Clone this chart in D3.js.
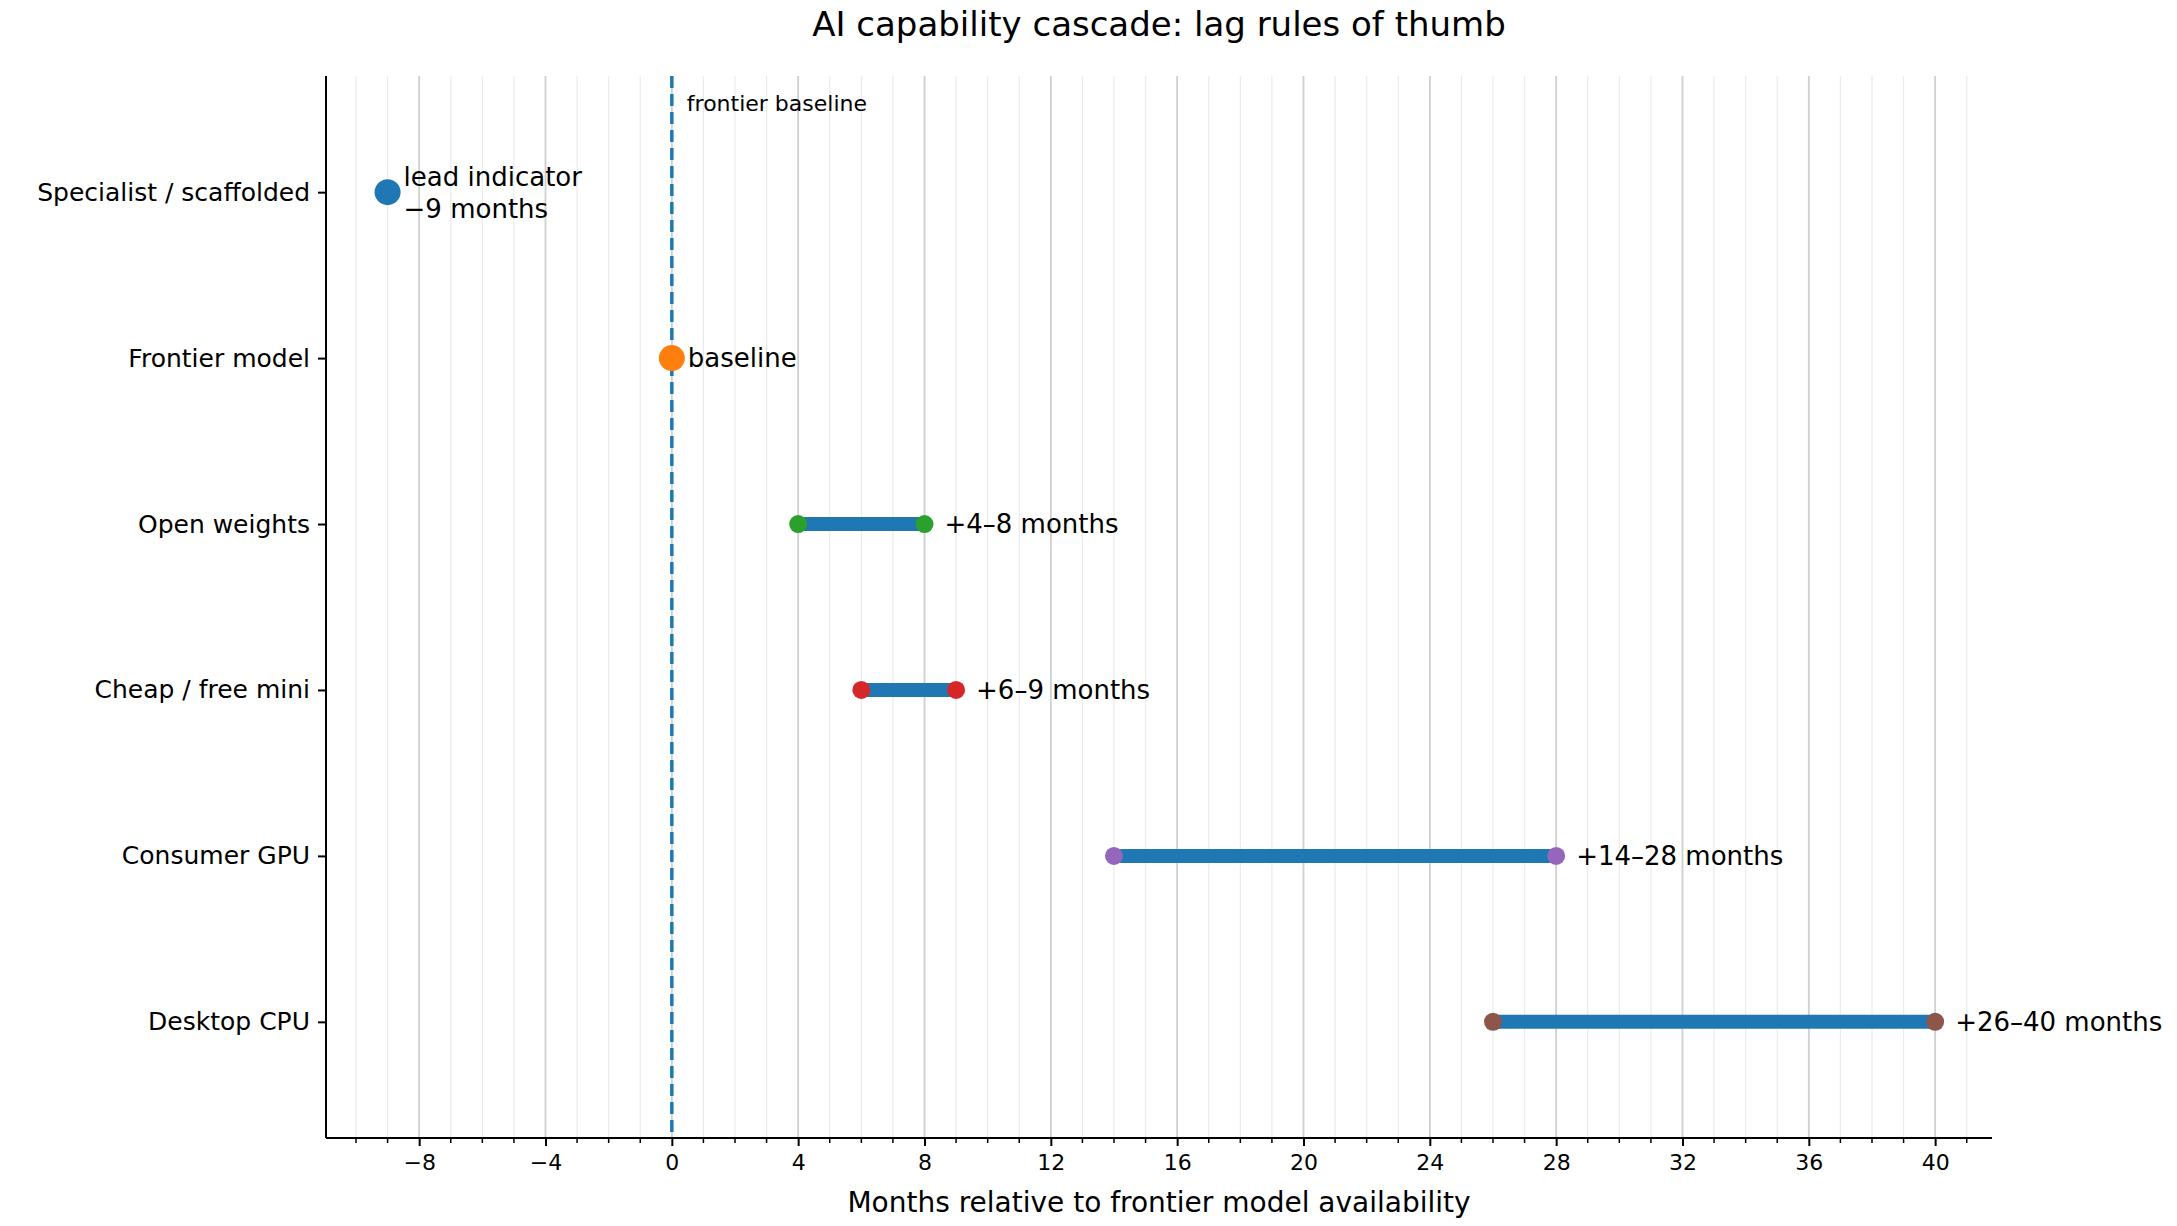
<!DOCTYPE html><html><head><meta charset="utf-8"><script src="https://cdn.jsdelivr.net/npm/d3@7"></script>
<style>body{margin:0;background:#fff}text{font-family:"DejaVu Sans",sans-serif}</style></head><body><svg id="c" width="2177" height="1226"></svg>
<script>
const categories=["Specialist / scaffolded","Frontier model","Open weights","Cheap / free mini","Consumer GPU","Desktop CPU"];
const lowVals=[-9,0,4,6,14,26];
const highVals=[-9,0,8,9,28,40];
const labels=["lead indicator\n\u22129 months","baseline","+4\u20138 months","+6\u20139 months","+14\u201328 months","+26\u201340 months"];
const colors=["#1f77b4","#ff7f0e","#2ca02c","#d62728","#9467bd","#8c564b"];
const xTicks=[-8,-4,0,4,8,12,16,20,24,28,32,36,40];
const svg=d3.select("#c");
const L=326,R=1992,T=76,B=1138;
const x=d3.scaleLinear().domain([-10.95,41.8]).range([L,R]);
const y=d3.scaleLinear().domain([-0.7,5.7]).range([T,B]);
const minor=d3.range(-10,42,1);
svg.append("g").selectAll("line").data(minor).join("line").attr("x1",d=>x(d)).attr("x2",d=>x(d)).attr("y1",T).attr("y2",B).attr("stroke","#ebebeb").attr("stroke-width",1.2);
svg.append("g").selectAll("line").data(xTicks).join("line").attr("x1",d=>x(d)).attr("x2",d=>x(d)).attr("y1",T).attr("y2",B).attr("stroke","#d0d0d0").attr("stroke-width",1.8);
svg.append("line").attr("x1",x(0)).attr("x2",x(0)).attr("y1",T).attr("y2",B).attr("stroke","#1f77b4").attr("stroke-width",3.5).attr("stroke-dasharray","12,6");
svg.append("text").attr("x",x(0)+15).attr("y",111).attr("font-size",22).text("frontier baseline");
const xa=svg.append("g").attr("transform",`translate(0,${B})`).call(d3.axisBottom(x).tickValues(xTicks).tickFormat(d=>d<0?"\u2212"+(-d):d).tickSize(8).tickPadding(8));
xa.selectAll("text").attr("font-size",22).attr("font-family","DejaVu Sans");
xa.select(".domain").attr("stroke-width",2).attr("d",`M${L},0H${R}`);
xa.selectAll(".tick line").attr("stroke-width",2);
svg.append("g").attr("transform",`translate(0,${B})`).selectAll("line").data(minor.filter(d=>d%4!==0)).join("line").attr("x1",d=>x(d)).attr("x2",d=>x(d)).attr("y1",0).attr("y2",5).attr("stroke","#000").attr("stroke-width",1.5);
const ya=svg.append("g").attr("transform",`translate(${L},0)`).call(d3.axisLeft(y).tickValues(d3.range(6)).tickFormat(i=>categories[i]).tickSize(8).tickPadding(8));
ya.selectAll("text").attr("font-size",25).attr("font-family","DejaVu Sans");
ya.select(".domain").attr("stroke-width",2).attr("d",`M0,${T}V${B}`);
ya.selectAll(".tick line").attr("stroke-width",2);
const idx=d3.range(6);
svg.append("g").selectAll("line").data(idx.filter(i=>highVals[i]>lowVals[i])).join("line").attr("x1",i=>x(lowVals[i])).attr("x2",i=>x(highVals[i])).attr("y1",i=>y(i)).attr("y2",i=>y(i)).attr("stroke","#1f77b4").attr("stroke-width",14);
idx.forEach(i=>{
  if(highVals[i]>lowVals[i]){
    [lowVals[i],highVals[i]].forEach(v=>svg.append("circle").attr("cx",x(v)).attr("cy",y(i)).attr("r",9).attr("fill",colors[i]));
  } else svg.append("circle").attr("cx",x(lowVals[i])).attr("cy",y(i)).attr("r",13).attr("fill",colors[i]);
  const lines=labels[i].split("\n");
  const t=svg.append("text").attr("x",x(highVals[i])+(highVals[i]>lowVals[i]?20:16)).attr("font-size",26);
  if(lines.length===1)t.attr("y",y(i)+9).text(lines[0]);
  else lines.forEach((s,k)=>t.append("tspan").attr("x",x(highVals[i])+16).attr("y",y(i)-6+k*32).text(s));
});
svg.append("text").attr("x",(L+R)/2).attr("y",1212).attr("text-anchor","middle").attr("font-size",28).text("Months relative to frontier model availability");
svg.append("text").attr("x",(L+R)/2).attr("y",36).attr("text-anchor","middle").attr("font-size",34).text("AI capability cascade: lag rules of thumb");
</script></body></html>
